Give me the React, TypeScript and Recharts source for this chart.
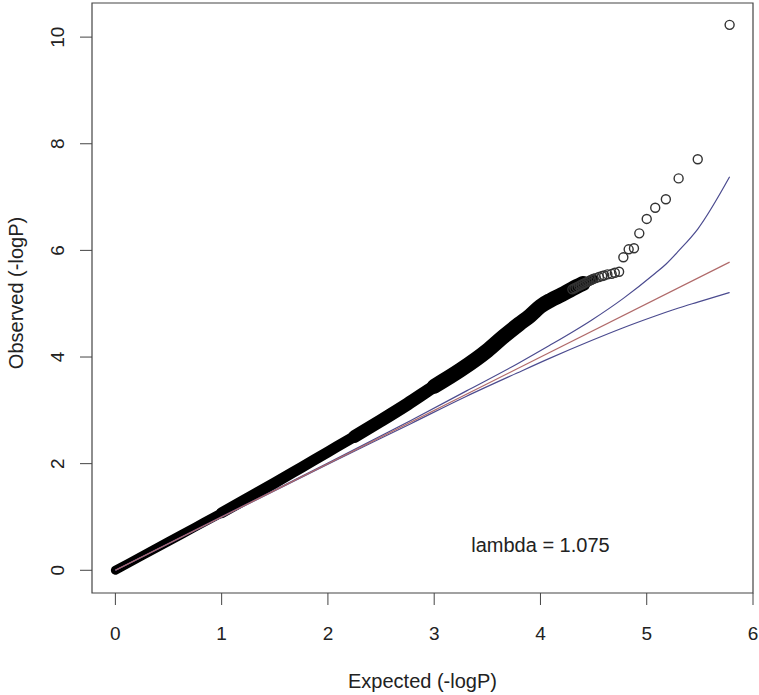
import {
  ComposedChart,
  Line,
  Scatter,
  XAxis,
  YAxis,
  ReferenceArea,
  ReferenceDot,
  Label,
} from 'recharts';

// dense part of the observed -logP (drawn as a thick band of overlapping points)
const bandX = [0, 0.25, 0.5, 0.75, 1.0, 1.25, 1.5, 1.75, 2.0, 2.25, 2.5, 2.75, 3.0, 3.25, 3.5, 3.65, 3.8, 3.9, 4.0, 4.1, 4.2, 4.3, 4.4, 4.5];
const bandY = [0, 0.27, 0.54, 0.81, 1.08, 1.36, 1.64, 1.93, 2.22, 2.51, 2.81, 3.12, 3.45, 3.76, 4.12, 4.38, 4.62, 4.77, 4.95, 5.07, 5.17, 5.28, 5.38, 5.46];

// sparse tail, single points
const tailX = [4.3, 4.32, 4.34, 4.36, 4.38, 4.4, 4.42, 4.44, 4.46, 4.48, 4.5, 4.52, 4.55, 4.58, 4.6, 4.63, 4.67, 4.7, 4.74, 4.78, 4.83, 4.88, 4.93, 5.0, 5.08, 5.18, 5.3, 5.48, 5.78];
const tailY = [5.27, 5.29, 5.31, 5.33, 5.35, 5.37, 5.39, 5.41, 5.43, 5.45, 5.47, 5.48, 5.5, 5.52, 5.53, 5.55, 5.56, 5.58, 5.6, 5.87, 6.02, 6.04, 6.32, 6.59, 6.8, 6.96, 7.35, 7.71, 10.23];

// expected line and 95% band
const ciX = [0, 2.0, 2.78, 3.3, 3.78, 4.08, 4.48, 4.78, 5.08, 5.18, 5.3, 5.48, 5.78];
const ciUpper = [0, 2.01, 2.81, 3.36, 3.87, 4.21, 4.69, 5.1, 5.57, 5.74, 5.99, 6.4, 7.38];
const ciLower = [0, 1.99, 2.75, 3.26, 3.7, 3.97, 4.31, 4.55, 4.77, 4.84, 4.92, 5.03, 5.21];
const diagX = [0, 5.78];

const xTicks = [0, 1, 2, 3, 4, 5, 6];
const yTicks = [0, 2, 4, 6, 8, 10];
const lambdaText = 'lambda = 1.075';

const band = bandX.map((x, i) => ({ x, y: bandY[i] }));
// the point cloud gets thicker further out; overlay slightly wider strokes
const bandStages: [number, number, number][] = [
  [1.0, 2.5, 11],
  [2.25, 3.25, 13],
  [3.0, 4.4, 15],
];
const tail = tailX.map((x, i) => ({ x, y: tailY[i] }));
const upper = ciX.map((x, i) => ({ x, y: ciUpper[i] }));
const lower = ciX.map((x, i) => ({ x, y: ciLower[i] }));
const diag = diagX.map((x) => ({ x, y: x }));

const FONT = '"Liberation Sans", Arial, Helvetica, sans-serif';
const TEXT = '#222';
const AXIS = '#444';

function XTick({ x, y, payload }: any) {
  return (
    <text x={x} y={y + 35} textAnchor="middle" fontSize={19} fontFamily={FONT} fill={TEXT}>
      {payload.value}
    </text>
  );
}

function YTick({ x, y, payload }: any) {
  const tx = x - 16;
  return (
    <text
      x={tx}
      y={y}
      transform={`rotate(-90, ${tx}, ${y})`}
      textAnchor="middle"
      fontSize={19}
      fontFamily={FONT}
      fill={TEXT}
    >
      {payload.value}
    </text>
  );
}

function OpenCircle({ cx, cy }: any) {
  return <circle cx={cx} cy={cy} r={4.5} fill="none" stroke="#333" strokeWidth={1.4} />;
}

function bandLine(data: { x: number; y: number }[], width: number, key: string) {
  return (
    <Line
      key={key}
      data={data}
      dataKey="y"
      type="monotone"
      stroke="#000"
      strokeWidth={width}
      strokeLinecap="round"
      strokeLinejoin="round"
      dot={false}
      isAnimationActive={false}
    />
  );
}

export default function App() {
  return (
    <div style={{ position: 'absolute', left: 0, top: 0, width: 759, height: 695, background: '#fff' }}>
      <ComposedChart width={759} height={695} margin={{ top: 3, right: 6, left: 0, bottom: 0 }}>
        <XAxis
          dataKey="x"
          type="number"
          domain={[-0.22, 6]}
          ticks={xTicks}
          height={102}
          tickSize={12}
          tickMargin={0}
          axisLine={false}
          tickLine={{ stroke: AXIS }}
          tick={<XTick />}
          interval={0}
          allowDataOverflow
        >
          <Label
            content={({ viewBox }: any) => (
              <text
                x={viewBox.x + viewBox.width / 2}
                y={viewBox.y + 95}
                textAnchor="middle"
                fontSize={20}
                fontFamily={FONT}
                fill={TEXT}
              >
                Expected (-logP)
              </text>
            )}
          />
        </XAxis>
        <YAxis
          dataKey="y"
          type="number"
          domain={[-0.426, 10.64]}
          ticks={yTicks}
          width={92}
          tickSize={12}
          tickMargin={0}
          axisLine={false}
          tickLine={{ stroke: AXIS }}
          tick={<YTick />}
          interval={0}
          allowDataOverflow
        >
          <Label
            content={({ viewBox }: any) => {
              const tx = viewBox.x + 23;
              const ty = viewBox.y + viewBox.height / 2 - 5;
              return (
                <text
                  x={tx}
                  y={ty}
                  transform={`rotate(-90, ${tx}, ${ty})`}
                  textAnchor="middle"
                  fontSize={20}
                  fontFamily={FONT}
                  fill={TEXT}
                >
                  Observed (-logP)
                </text>
              );
            }}
          />
        </YAxis>
        <ReferenceArea
          x1={-0.22}
          x2={6}
          y1={-0.426}
          y2={10.64}
          fill="none"
          stroke={AXIS}
          strokeWidth={1.2}
          ifOverflow="visible"
        />
        {bandLine(band, 9, 'band')}
        {bandStages.map(([from, to, w]) =>
          bandLine(band.filter((p) => p.x >= from && p.x <= to), w, `band-${from}`),
        )}
        <Scatter data={tail} dataKey="y" shape={<OpenCircle />} isAnimationActive={false} />
        <Line
          data={upper}
          dataKey="y"
          type="monotone"
          stroke="#4b4b8f"
          strokeWidth={1.2}
          dot={false}
          isAnimationActive={false}
        />
        <Line
          data={lower}
          dataKey="y"
          type="monotone"
          stroke="#4b4b8f"
          strokeWidth={1.2}
          dot={false}
          isAnimationActive={false}
        />
        <Line
          data={diag}
          dataKey="y"
          type="linear"
          stroke="#b06a6a"
          strokeWidth={1.2}
          dot={false}
          isAnimationActive={false}
        />
        <ReferenceDot
          x={4}
          y={0.5}
          r={0}
          ifOverflow="visible"
          shape={({ cx, cy }: any) => (
            <text x={cx} y={cy + 8} textAnchor="middle" fontSize={20} fontFamily={FONT} fill={TEXT}>
              {lambdaText}
            </text>
          )}
        />
      </ComposedChart>
    </div>
  );
}
